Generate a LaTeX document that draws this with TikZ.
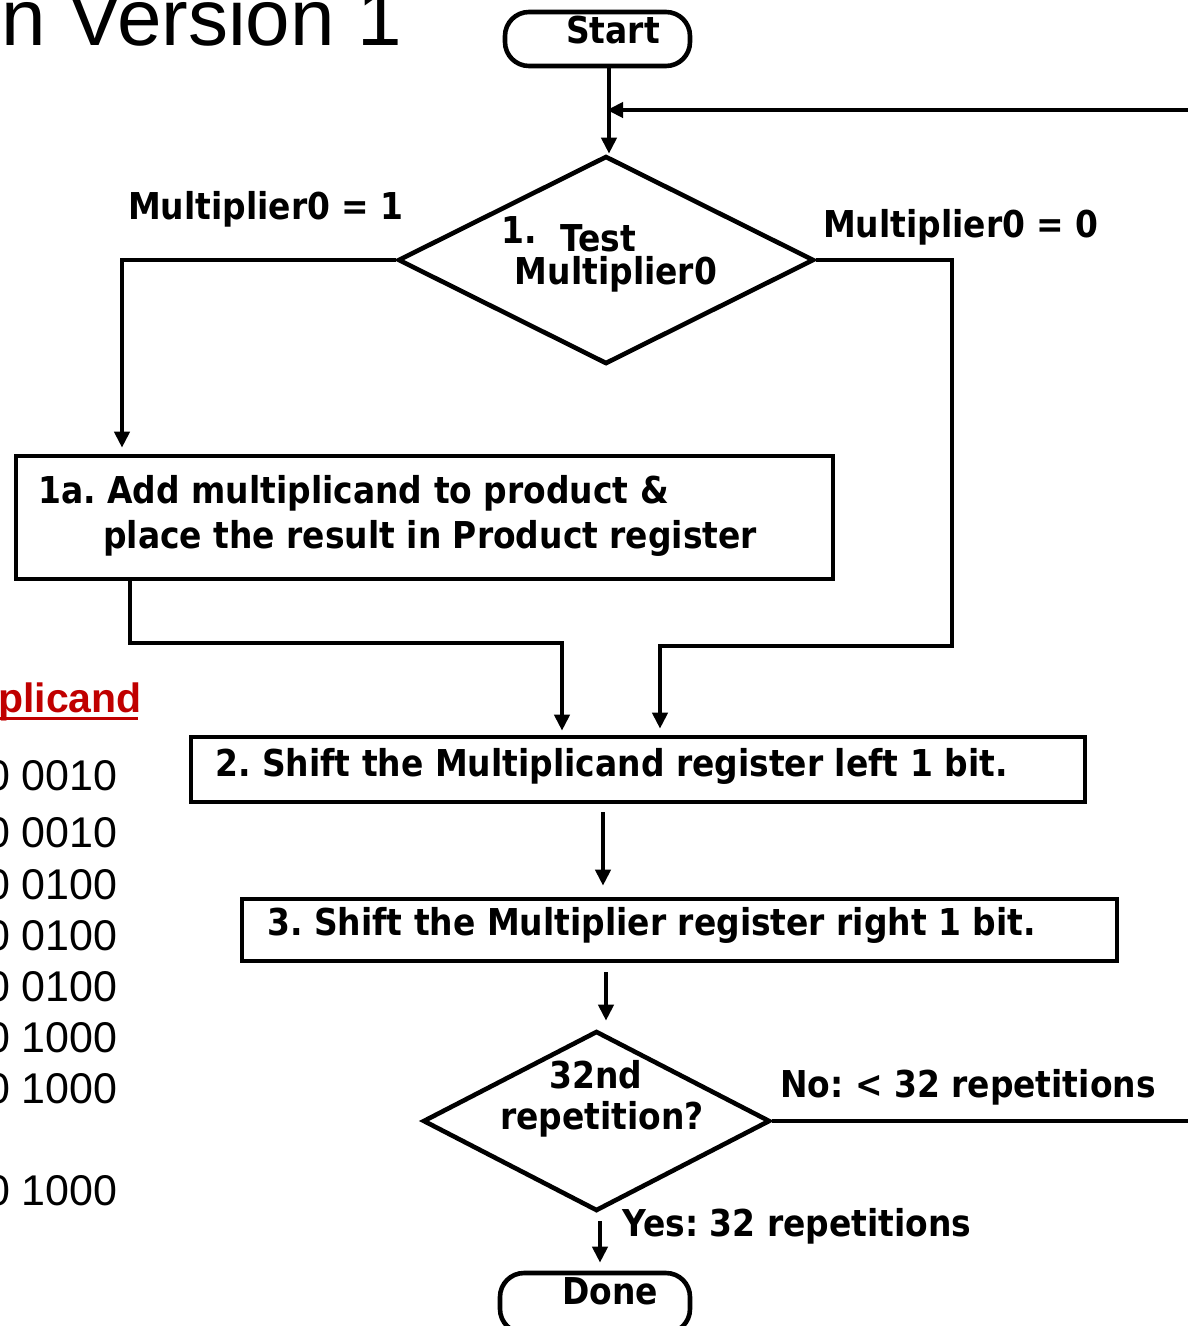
\documentclass[tikz,border=0pt]{standalone}
\usepackage{fontspec}
\setmainfont{DejaVu Sans}
\newfontfamily\flowfont[FakeStretch=0.89]{DejaVu Sans Bold}
\newfontfamily\arialfont{Liberation Sans}
\usetikzlibrary{shapes.geometric,arrows.meta}
\definecolor{titlered}{RGB}{192,0,0}
\frenchspacing
\begin{document}
\begin{tikzpicture}[x=1pt,y=-1pt,
  line width=4.6pt,
  flowtext/.style={font=\flowfont\fontsize{37}{44}\selectfont, inner sep=0pt},
  slidetext/.style={font=\arialfont\fontsize{43}{50}\selectfont, inner sep=0pt, anchor=base east},
  terminal/.style={draw, rounded corners=24pt, minimum width=185pt, minimum height=54pt, inner sep=0pt},
  stepbox/.style={draw, inner sep=0pt},
  decision/.style={draw, diamond, inner sep=0pt, aspect=2},
  arrow/.style={-{Triangle[length=16pt,width=15pt]}, line join=miter}]
\useasboundingbox (0,0) rectangle (1188,1326);
\clip (0,0) rectangle (1188,1326);

% slide background text
\node[font=\arialfont\fontsize{80}{90}\selectfont, inner sep=0pt, anchor=base east] (title) at (404,45) {n Version 1};
\node[font=\arialfont\bfseries\fontsize{41}{48}\selectfont, text=titlered, inner sep=0pt, anchor=base east] (mcand) at (144,712) {plicand};
\draw[titlered, line width=3pt] (mcand.base west) ++(0,6) -- ++(142,0);
\node[slidetext] (r1) at (120,790) {0 0010};
\node[slidetext] (r2) at (120,847) {0 0010};
\node[slidetext] (r3) at (120,899) {0 0100};
\node[slidetext] (r4) at (120,950) {0 0100};
\node[slidetext] (r5) at (120,1001) {0 0100};
\node[slidetext] (r6) at (120,1052) {0 1000};
\node[slidetext] (r7) at (120,1103) {0 1000};
\node[slidetext] (r8) at (120,1205) {0 1000};

% shapes
\node[terminal] (start) at (597.5,39) {};
\node[flowtext] (starttxt) at (613,30) {Start};
\node[decision, minimum width=416pt, minimum height=208pt] (d1) at (606,260) {};
\node[flowtext] (t1) at (519,230) {1.};
\node[flowtext] (t2) at (598,238) {Test};
\node[flowtext] (t3) at (616,274) {Multiplier0};
\node[flowtext] (lab1) at (266,209) {Multiplier0 = 1};
\node[flowtext] (lab0) at (961,227) {Multiplier0 = 0};

\node[stepbox, minimum width=817pt, minimum height=123pt] (b1) at (424.5,517.5) {};
\node[flowtext, anchor=west] (b1a) at (36,493) {1a. Add multiplicand to product \&};
\node[flowtext, anchor=west] (b1b) at (101,538) {place the result in Product register};

\node[stepbox, minimum width=894pt, minimum height=65pt] (b2) at (638,769.5) {};
\node[flowtext, anchor=west] (b2t) at (213,766) {2. Shift the Multiplicand register left 1 bit.};

\node[stepbox, minimum width=875pt, minimum height=62pt] (b3) at (679.5,930) {};
\node[flowtext, anchor=west] (b3t) at (265,925) {3. Shift the Multiplier register right 1 bit.};

\node[decision, minimum width=347pt, minimum height=180pt] (d2) at (596.5,1121) {};
\node[flowtext] (q1) at (596,1075) {32nd};
\node[flowtext] (q2) at (602,1119) {repetition?};
\node[flowtext] (no) at (968,1087) {No: < 32 repetitions};
\node[flowtext] (yes) at (797,1226) {Yes: 32 repetitions};

\node[terminal, minimum width=190pt, minimum height=60pt] (done) at (595,1303) {};
\node[flowtext] (donetxt) at (610,1291) {Done};

% helper coordinates
\coordinate (join) at (607,110);
\coordinate (loopR) at (1210,0);
\coordinate (L1) at (122,0);
\coordinate (R1) at (952,646);
\coordinate (M2) at (660,646);
\coordinate (A1) at (130,643);
\coordinate (A2) at (562,643);

% connectors
\draw[arrow] (start.south -| 609,0) -- (d1.north -| 609,0);
\draw[arrow] (d2.east) -- (d2.east -| loopR) -- (loopR |- join) -- (join);
\draw[arrow, shorten >=6pt] (d1.west) -| (b1.north -| L1);
\draw[arrow, shorten >=6pt] (d1.east) -| (R1) -- (M2) -- (b2.north -| M2);
\draw[arrow, shorten >=4pt] (b1.south -| A1) -- (A1) -- (A2) -- (b2.north -| A2);
\draw[arrow, shorten <=8pt, shorten >=11pt] (b2.south -| 603,0) -- (b3.north -| 603,0);
\draw[arrow, shorten <=9pt, shorten >=8pt] (b3.south -| 606,0) -- (d2.north -| 606,0);
\draw[arrow, shorten <=8pt, shorten >=8pt] (d2.south -| 600,0) -- (done.north -| 600,0);
\end{tikzpicture}
\end{document}
